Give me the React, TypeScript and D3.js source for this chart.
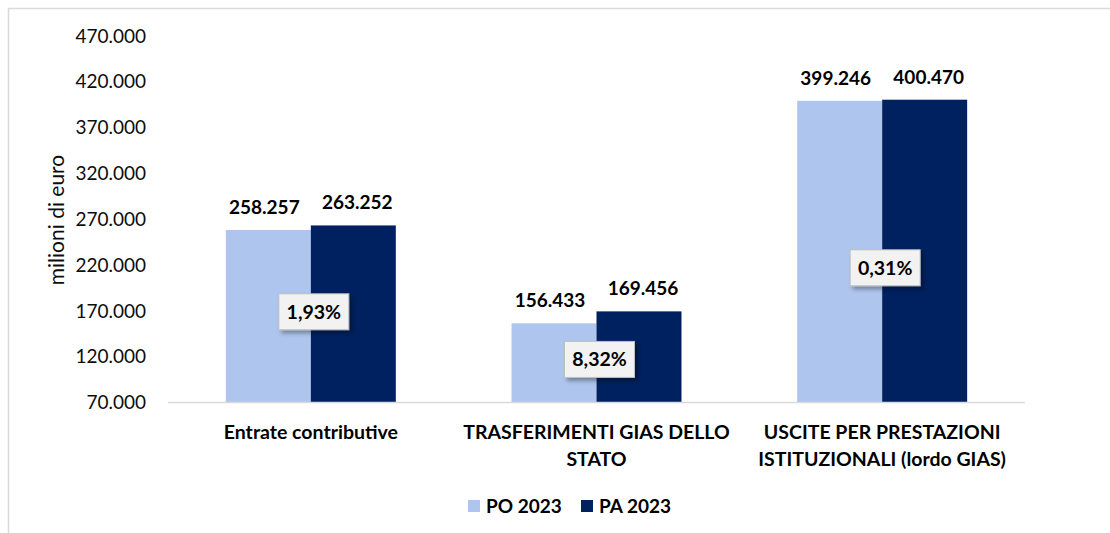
import React from 'react';
import * as d3 from 'd3';

const categories = [
  ['Entrate contributive'],
  ['TRASFERIMENTI GIAS DELLO', 'STATO'],
  ['USCITE PER PRESTAZIONI', 'ISTITUZIONALI (lordo GIAS)'],
];
const series = ['PO 2023', 'PA 2023'];
const po2023 = [258257, 156433, 399246];
const pa2023 = [263252, 169456, 400470];
const changes = ['1,93%', '8,32%', '0,31%'];
// where the % callouts sit on the value axis
const changeAt = [169000, 117000, 217000];
const yTicks = [70000, 120000, 170000, 220000, 270000, 320000, 370000, 420000, 470000];

const colors = ['#AEC5EE', '#00215F'];
const font = 'Lato, "Open Sans", sans-serif';

const fmt = (v: number) => d3.format(',')(v).replace(/,/g, '.');

export default function App() {
  const W = 1110;
  const H = 533;
  const margin = { left: 168, right: 85, top: 36, bottom: 130 };

  const x0 = d3
    .scaleBand<number>()
    .domain(d3.range(categories.length))
    .range([margin.left, W - margin.right])
    .paddingInner(0.405)
    .paddingOuter(0.2025);
  const x1 = d3.scaleBand<string>().domain(series).range([0, x0.bandwidth()]);
  const y = d3.scaleLinear().domain([70000, 470000]).range([402.5, 36]);

  const values = [po2023, pa2023];

  return (
    <svg
      width={W}
      height={H}
      style={{ position: 'absolute', left: 0, top: 0, fontFamily: font }}
    >
      <defs>
        <filter id="shadow" x="-20%" y="-20%" width="150%" height="160%">
          <feDropShadow dx="3" dy="3" stdDeviation="2" floodColor="#000" floodOpacity="0.35" />
        </filter>
      </defs>
      <rect x={0} y={0} width={W} height={H} fill="#fff" />
      <rect x={8.5} y={8.5} width={W + 50} height={H + 50} fill="none" stroke="#d9d9d9" strokeWidth={1.5} />

      {/* y axis labels */}
      {yTicks.map((t) => (
        <text key={t} x={146} y={y(t)} dy="0.35em" textAnchor="end" fontSize={19} fill="#0d0d0d">
          {fmt(t)}
        </text>
      ))}
      <text
        transform={`translate(57,220) rotate(-90)`}
        textAnchor="middle"
        dy="0.35em"
        fontSize={21}
        fill="#0d0d0d"
      >
        milioni di euro
      </text>

      {/* bars */}
      {categories.map((_, i) => (
        <g key={i} transform={`translate(${x0(i)},0)`}>
          {series.map((s, j) => {
            const v = values[j][i];
            return (
              <g key={s}>
                <rect
                  x={x1(s)}
                  y={y(v)}
                  width={x1.bandwidth()}
                  height={y(70000) - y(v)}
                  fill={colors[j]}
                />
                <text
                  x={(x1(s) ?? 0) + x1.bandwidth() / 2 - (j === 0 ? 4 : -4)}
                  y={y(v) - 16}
                  textAnchor="middle"
                  fontSize={19}
                  fontWeight="bold"
                  fill="#000"
                >
                  {fmt(v)}
                </text>
              </g>
            );
          })}
        </g>
      ))}

      {/* x axis line */}
      <line x1={margin.left} x2={W - margin.right} y1={y(70000)} y2={y(70000)} stroke="#d9d9d9" strokeWidth={1.5} />

      {/* category labels */}
      {categories.map((lines, i) => (
        <text
          key={i}
          x={(x0(i) ?? 0) + x0.bandwidth() / 2}
          y={439}
          textAnchor="middle"
          fontSize={19.5}
          fontWeight="bold"
          fill="#000"
        >
          {lines.map((l, k) => (
            <tspan key={k} x={(x0(i) ?? 0) + x0.bandwidth() / 2} dy={k === 0 ? 0 : 27}>
              {l}
            </tspan>
          ))}
        </text>
      ))}

      {/* % change callouts */}
      {changes.map((c, i) => {
        const cx = (x0(i) ?? 0) + x0.bandwidth() / 2 + 3;
        const cy = y(changeAt[i]);
        return (
          <g key={c} transform={`translate(${cx},${cy})`}>
            <rect x={-35} y={-18} width={70} height={36} fill="#f2f2f2" stroke="#bfbfbf" strokeWidth={1} filter="url(#shadow)" />
            <text textAnchor="middle" dy="0.36em" fontSize={19.5} fontWeight="bold" fill="#000">
              {c}
            </text>
          </g>
        );
      })}

      {/* legend */}
      {series.map((s, j) => (
        <g key={s} transform={`translate(${468 + j * 113},506)`}>
          <rect x={0} y={-6} width={12} height={12} fill={colors[j]} />
          <text x={18} dy="0.36em" fontSize={19} fontWeight="bold" fill="#000">
            {s}
          </text>
        </g>
      ))}
    </svg>
  );
}
